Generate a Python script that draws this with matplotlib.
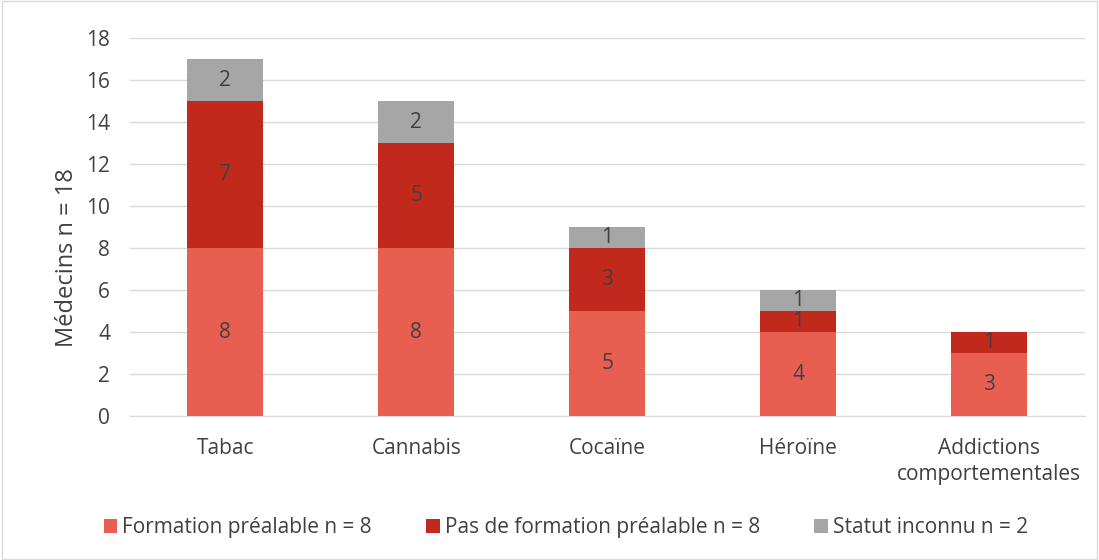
import matplotlib
matplotlib.use("Agg")
import matplotlib.pyplot as plt
import numpy as np

categories = ["Tabac", "Cannabis", "Cocaïne", "Héroïne", "Addictions\ncomportementales"]
formation = [8, 8, 5, 4, 3]
pas_formation = [7, 5, 3, 1, 1]
inconnu = [2, 2, 1, 1, 0]
series_labels = ["Formation préalable n = 8", "Pas de formation préalable n = 8", "Statut inconnu n = 2"]
colors = ["#E85F52", "#C0291C", "#A6A6A6"]

plt.rcParams['font.family'] = ['Open Sans', 'DejaVu Sans']

fig = plt.figure(figsize=(10.99, 5.6), dpi=100)
ax = fig.add_axes([0.118, 0.257, 0.869, 0.675])

x = np.arange(len(categories))
w = 0.4
bottom = np.zeros(len(categories))
for vals, col, lab in zip([formation, pas_formation, inconnu], colors, series_labels):
    vals = np.array(vals, dtype=float)
    ax.bar(x, vals, w, bottom=bottom, color=col, label=lab, zorder=3)
    for xi, b, v in zip(x, bottom, vals):
        if v > 0:
            ax.text(xi, b + v / 2, f"{int(v)}", ha="center", va="center",
                    fontsize=15, color="#404040", zorder=4)
    bottom += vals

ax.set_xlim(-0.5, len(categories) - 0.5)
ax.set_ylim(0, 18)
ax.set_yticks(range(0, 19, 2))
ax.set_xticks(x)
ax.set_xticklabels(categories, fontsize=15, color="#404040", linespacing=1.3)
ax.tick_params(axis="y", labelsize=15, labelcolor="#404040", length=0, pad=14)
ax.tick_params(axis="x", length=0, pad=16)
ax.grid(axis="y", color="#D9D9D9", linewidth=1, zorder=0)
for s in ["top", "right", "left"]:
    ax.spines[s].set_visible(False)
ax.spines["bottom"].set_color("#D9D9D9")
ax.set_ylabel("Médecins n = 18", fontsize=17, color="#404040")
ax.yaxis.set_label_coords(-0.053, 0.42)

fig.legend(loc="center", bbox_to_anchor=(0.515, 0.058), ncol=3, frameon=False,
           fontsize=15, handlelength=0.65, handleheight=0.65, handletextpad=0.25,
           columnspacing=2.6, labelcolor="#404040")

fig.patches.append(plt.Rectangle((0.002, 0.002), 0.996, 0.996, transform=fig.transFigure,
                                 fill=False, edgecolor="#D9D9D9", linewidth=1))

fig.savefig("out.png", dpi=100)
